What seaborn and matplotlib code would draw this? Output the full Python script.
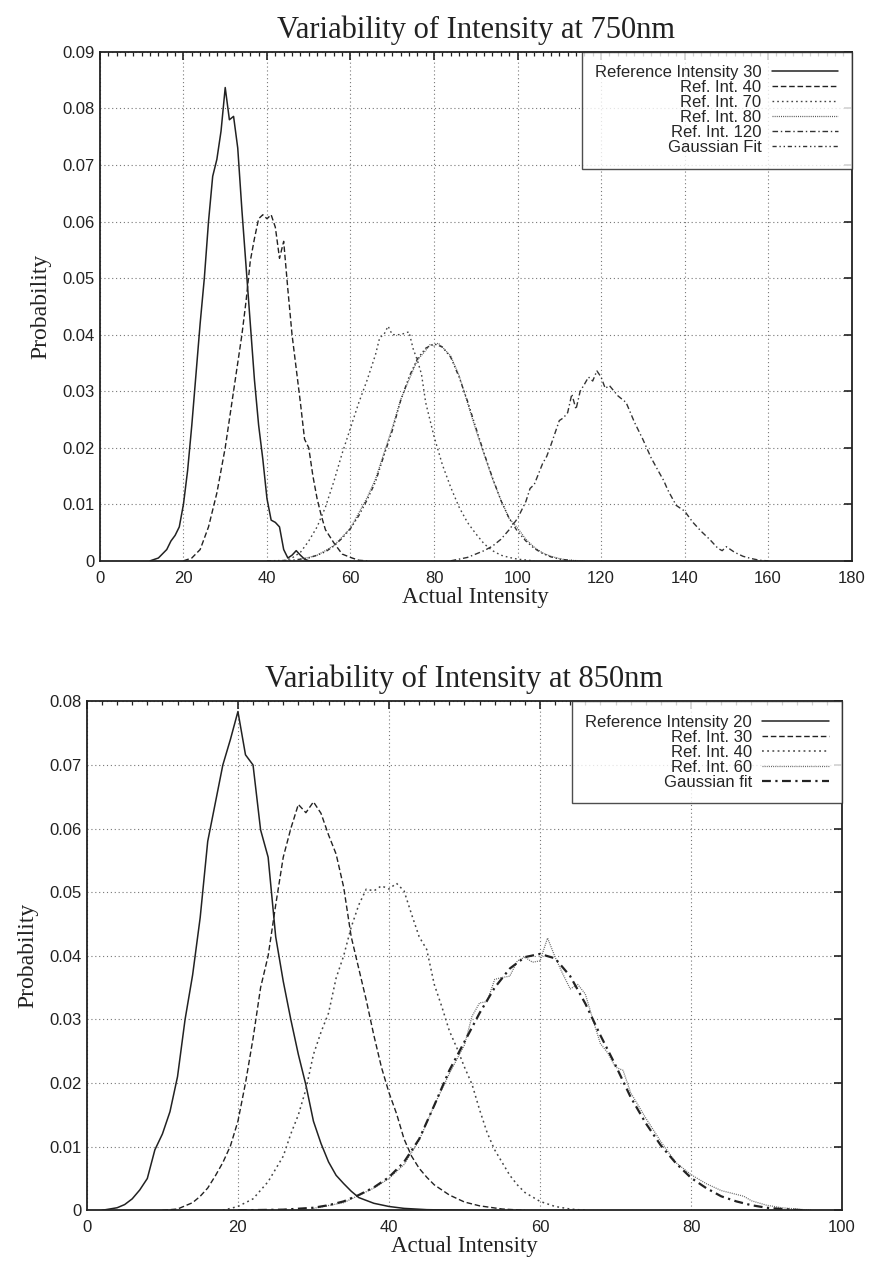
import matplotlib
matplotlib.use("Agg")
import matplotlib.pyplot as plt
import seaborn as sns
import numpy as np
from matplotlib.ticker import MultipleLocator, FormatStrFormatter

# ---- 750nm data ----
x_750_ref30 = [12, 14, 16, 17, 18, 19, 20, 21, 22, 23, 24, 25, 26, 27, 28, 29, 30, 31, 32, 33,
               34, 35, 36, 37, 38, 39, 40, 41, 42, 43, 44, 45, 46, 47, 48, 49, 50, 55]
y_750_ref30 = [0, 0.0005, 0.002, 0.0035, 0.0045, 0.006, 0.010, 0.016, 0.024, 0.033, 0.042, 0.050,
               0.060, 0.068, 0.071, 0.076, 0.0837, 0.078, 0.0786, 0.073, 0.062, 0.052, 0.042, 0.032,
               0.024, 0.018, 0.011, 0.0072, 0.0068, 0.006, 0.002, 0.0005, 0.001, 0.0018, 0.001,
               0.0003, 0, 0]

x_750_ref40 = [20, 22, 24, 26, 28, 30, 32, 34, 35, 36, 37, 38, 39, 40, 41, 42, 43, 44, 45, 46,
               47, 48, 49, 50, 51, 52, 53, 54, 56, 58, 60, 62, 64]
y_750_ref40 = [0, 0.0005, 0.002, 0.006, 0.012, 0.020, 0.030, 0.040, 0.046, 0.053, 0.057, 0.0605,
               0.0612, 0.0605, 0.0612, 0.0590, 0.0535, 0.0565, 0.048, 0.040, 0.034, 0.028, 0.0215,
               0.020, 0.015, 0.011, 0.008, 0.0055, 0.0032, 0.0012, 0.0006, 0.0001, 0]

x_750_ref70 = [44, 46, 48, 50, 52, 54, 56, 58, 60, 62, 64, 66, 67, 68, 69, 70, 72, 74, 75, 76,
               77, 78, 80, 82, 84, 86, 88, 90, 92, 94, 96, 98, 100, 104]
y_750_ref70 = [0, 0.0005, 0.0015, 0.0035, 0.006, 0.0095, 0.014, 0.019, 0.0235, 0.028, 0.032,
               0.0365, 0.0395, 0.040, 0.0415, 0.040, 0.040, 0.0405, 0.0375, 0.0355, 0.033, 0.028,
               0.022, 0.017, 0.013, 0.0095, 0.0068, 0.0048, 0.003, 0.0018, 0.001, 0.0006, 0.0003, 0]

x_750_ref80 = [48, 50, 52, 54, 56, 58, 60, 62, 64, 66, 68, 70, 72, 74, 76, 78, 79, 80, 81, 82,
               84, 86, 88, 90, 92, 94, 96, 98, 100, 102, 104, 106, 108, 110, 112, 116]
y_750_ref80 = [0.0003, 0.0006, 0.001, 0.0018, 0.0027, 0.0042, 0.0058, 0.0085, 0.0112, 0.0145,
               0.019, 0.0235, 0.0285, 0.032, 0.0355, 0.0372, 0.0382, 0.038, 0.0385, 0.0378, 0.0362,
               0.0328, 0.028, 0.0232, 0.0188, 0.0145, 0.0108, 0.0075, 0.0058, 0.0038, 0.0024,
               0.0014, 0.0008, 0.0004, 0.0001, 0]

x_750_ref120 = [84, 86, 88, 90, 92, 94, 96, 98, 100, 102, 103, 104, 106, 107, 108, 110, 111, 112,
                113, 114, 115, 116, 117, 118, 119, 120, 121, 122, 124, 126, 128, 130, 132, 134,
                135, 136, 138, 140, 142, 144, 146, 148, 149, 150, 152, 154, 156, 158, 160]
y_750_ref120 = [0, 0.0003, 0.0006, 0.0012, 0.0018, 0.0026, 0.0038, 0.0055, 0.0075, 0.0105,
                0.0128, 0.0135, 0.0172, 0.0185, 0.0205, 0.0248, 0.0253, 0.0262, 0.0295, 0.0268,
                0.030, 0.0312, 0.0325, 0.0318, 0.0336, 0.0325, 0.0305, 0.031, 0.0292, 0.0280,
                0.0245, 0.0215, 0.0182, 0.0155, 0.0142, 0.0125, 0.0098, 0.0088, 0.0068, 0.0052,
                0.0038, 0.0022, 0.0018, 0.0025, 0.0015, 0.0008, 0.0004, 0.0001, 0]

x_750_fit = [40, 46, 50, 52, 54, 56, 58, 60, 62, 64, 66, 68, 70, 72, 74, 76, 78, 80, 82, 84, 86,
             88, 90, 92, 94, 96, 98, 100, 102, 104, 106, 108, 110, 114]
y_750_fit = [0, 0.0001, 0.0005, 0.0010, 0.0016, 0.0026, 0.0040, 0.0057, 0.0080, 0.0108, 0.0140,
             0.0186, 0.0230, 0.0283, 0.0325, 0.0357, 0.0376, 0.0384, 0.0378, 0.0360, 0.0325,
             0.0283, 0.0236, 0.0190, 0.0147, 0.0107, 0.0075, 0.0052, 0.0035, 0.0022, 0.0013,
             0.0007, 0.0003, 0]

# ---- 850nm data ----
x_850_ref20 = [2, 3, 4, 5, 6, 7, 8, 9, 10, 11, 12, 13, 14, 15, 16, 17, 18, 19, 20, 21, 22, 23,
               24, 25, 26, 27, 28, 29, 30, 31, 32, 33, 34, 35, 36, 38, 40, 42, 45, 50]
y_850_ref20 = [0, 0.0002, 0.0004, 0.0009, 0.0018, 0.0032, 0.005, 0.0095, 0.012, 0.0155, 0.021,
               0.030, 0.037, 0.046, 0.058, 0.064, 0.070, 0.074, 0.0784, 0.0716, 0.0700, 0.0598,
               0.0555, 0.043, 0.036, 0.030, 0.0245, 0.0197, 0.014, 0.0105, 0.0076, 0.0055, 0.0042,
               0.003, 0.002, 0.0011, 0.0006, 0.0003, 0.0001, 0]

x_850_ref30 = [10, 12, 14, 15, 16, 17, 18, 19, 20, 21, 22, 23, 24, 25, 26, 27, 28, 29, 30, 31,
               32, 33, 34, 35, 36, 37, 38, 39, 40, 41, 42, 43, 44, 45, 46, 48, 50, 52, 55, 58]
y_850_ref30 = [0, 0.0002, 0.0012, 0.0022, 0.0035, 0.0054, 0.0075, 0.0101, 0.0140, 0.020, 0.027,
               0.035, 0.040, 0.048, 0.0555, 0.0600, 0.0638, 0.0625, 0.0642, 0.0624, 0.059, 0.056,
               0.0508, 0.043, 0.038, 0.033, 0.0275, 0.0225, 0.0185, 0.0152, 0.0112, 0.0085,
               0.0066, 0.0052, 0.0040, 0.0024, 0.0013, 0.0007, 0.0002, 0]

x_850_ref40 = [18, 20, 22, 24, 26, 27, 28, 29, 30, 31, 32, 33, 34, 35, 36, 37, 38, 39, 40, 41,
               42, 43, 44, 45, 46, 47, 48, 49, 50, 51, 52, 53, 54, 55, 56, 57, 58, 60, 62, 64, 66]
y_850_ref40 = [0, 0.0006, 0.0018, 0.0045, 0.0085, 0.012, 0.015, 0.019, 0.0245, 0.028, 0.031,
               0.0365, 0.040, 0.0445, 0.048, 0.0505, 0.0502, 0.0510, 0.0505, 0.0514, 0.0502,
               0.0465, 0.0430, 0.0410, 0.0355, 0.032, 0.0282, 0.0255, 0.0225, 0.0198, 0.0158,
               0.0122, 0.0095, 0.0075, 0.0055, 0.004, 0.0028, 0.0014, 0.0006, 0.0002, 0]

x_850_ref60 = [30, 34, 38, 40, 42, 44, 46, 48, 50, 51, 52, 53, 54, 55, 56, 57, 58, 59, 60, 61,
               62, 63, 64, 65, 66, 67, 68, 69, 70, 71, 72, 74, 76, 78, 80, 82, 84, 86, 87, 88,
               90, 92, 94, 96]
y_850_ref60 = [0.0003, 0.0012, 0.0035, 0.005, 0.0072, 0.011, 0.0165, 0.0215, 0.026, 0.0305,
               0.0326, 0.0328, 0.0363, 0.0366, 0.0368, 0.0392, 0.0398, 0.039, 0.0392, 0.0428,
               0.0398, 0.0372, 0.0348, 0.0355, 0.034, 0.030, 0.0262, 0.0247, 0.0225, 0.022,
               0.0185, 0.0145, 0.0108, 0.0075, 0.0056, 0.0042, 0.0031, 0.0025, 0.0022, 0.0015,
               0.0008, 0.0004, 0.0002, 0]

x_850_fit = [20, 26, 30, 32, 34, 36, 38, 40, 42, 44, 46, 48, 50, 52, 54, 56, 58, 60, 62, 64, 66,
             68, 70, 72, 74, 76, 78, 80, 82, 84, 86, 88, 90, 92, 95]
y_850_fit = [0, 0.0001, 0.0004, 0.0008, 0.0014, 0.0024, 0.0036, 0.0052, 0.0076, 0.0112, 0.0165,
             0.022, 0.0265, 0.031, 0.035, 0.038, 0.0398, 0.0403, 0.0396, 0.0368, 0.0325, 0.0275,
             0.0228, 0.0178, 0.0137, 0.0102, 0.0074, 0.0051, 0.0035, 0.0022, 0.0014, 0.0008,
             0.0004, 0.0002, 0]

top_labels = ["Reference Intensity 30", "Ref. Int. 40", "Ref. Int. 70", "Ref. Int. 80",
              "Ref. Int. 120", "Gaussian Fit"]
bottom_labels = ["Reference Intensity 20", "Ref. Int. 30", "Ref. Int. 40", "Ref. Int. 60",
                 "Gaussian fit"]

sns.set_theme(style="white")
plt.rcParams["font.family"] = ["Liberation Sans", "DejaVu Sans"]

serif = ["Liberation Serif", "DejaVu Serif"]

# line styles imitating the old gnuplot dash patterns
solid = "-"
dashed = (0, (4, 2))
dotted = (0, (1.2, 2.2))
fine_dot = (0, (0.8, 0.9))
dashdot = (0, (4, 2, 1, 2))
dashdotdot = (0, (3, 2, 1, 2, 1, 2))


def style_axes(ax, xmax, ymax, title):
    ax.set_xlim(0, xmax)
    ax.set_ylim(0, ymax)
    ax.xaxis.set_major_locator(MultipleLocator(20))
    ax.xaxis.set_minor_locator(MultipleLocator(2))
    ax.yaxis.set_major_locator(MultipleLocator(0.01))
    ax.yaxis.set_major_formatter(FormatStrFormatter("%g"))
    ax.tick_params(which="both", direction="in", top=True, right=True, colors="#222222",
                   labelsize=12, labelcolor="#222222")
    ax.tick_params(which="major", length=6, width=1.2)
    ax.tick_params(which="minor", length=3, width=0.9)
    ax.tick_params(axis="x", pad=7)
    ax.grid(True, which="major", linestyle=(0, (1, 2.5)), color="#777777", linewidth=0.8)
    for s in ax.spines.values():
        s.set_color("#222222")
        s.set_linewidth(1.3)
    ax.set_title(title, fontsize=22, family=serif, color="#222222", pad=10)
    ax.set_xlabel("Actual Intensity", fontsize=16.5, family=serif, color="#222222", labelpad=1)
    ax.set_ylabel("Probability", fontsize=17, family=serif, color="#222222", labelpad=8)


def draw(ax, x, y, ls, lw=1.0, color="#222222"):
    sns.lineplot(x=x, y=y, ax=ax, color=color, linestyle=ls, linewidth=lw, sort=False)
    return ax.lines[-1]


def add_legend(ax, handles, labels):
    leg = ax.legend(handles, labels, loc="upper right", markerfirst=False, fontsize=12,
                    frameon=True, fancybox=False, borderaxespad=0, handlelength=4.0,
                    labelspacing=0.0, borderpad=0.8, handletextpad=0.6)
    leg.get_frame().set_edgecolor("#222222")
    leg.get_frame().set_linewidth(1.0)
    return leg


fig = plt.figure(figsize=(8.69, 12.66), dpi=100)
ax1 = fig.add_axes([0.115, 0.557, 0.865, 0.402])
ax2 = fig.add_axes([0.100, 0.044, 0.869, 0.402])

# top: 750nm
h1 = [
    draw(ax1, x_750_ref30, y_750_ref30, solid, 1.1),
    draw(ax1, x_750_ref40, y_750_ref40, dashed, 1.0),
    draw(ax1, x_750_ref70, y_750_ref70, dotted, 1.0, "#444444"),
    draw(ax1, x_750_ref80, y_750_ref80, fine_dot, 0.9, "#555555"),
    draw(ax1, x_750_ref120, y_750_ref120, dashdot, 1.0, "#333333"),
    draw(ax1, x_750_fit, y_750_fit, dashdotdot, 1.0, "#333333"),
]
style_axes(ax1, 180, 0.09, "Variability of Intensity at 750nm")
ax1.set_yticks(np.arange(0, 0.091, 0.01))
add_legend(ax1, h1, top_labels)

# bottom: 850nm
h2 = [
    draw(ax2, x_850_ref20, y_850_ref20, solid, 1.1),
    draw(ax2, x_850_ref30, y_850_ref30, dashed, 1.0),
    draw(ax2, x_850_ref40, y_850_ref40, dotted, 1.1, "#444444"),
    draw(ax2, x_850_ref60, y_850_ref60, fine_dot, 0.9, "#666666"),
    draw(ax2, x_850_fit, y_850_fit, dashdot, 1.6, "#222222"),
]
style_axes(ax2, 100, 0.08, "Variability of Intensity at 850nm")
ax2.set_yticks(np.arange(0, 0.081, 0.01))
add_legend(ax2, h2, bottom_labels)

fig.savefig("out.png", dpi=100, facecolor="white")
